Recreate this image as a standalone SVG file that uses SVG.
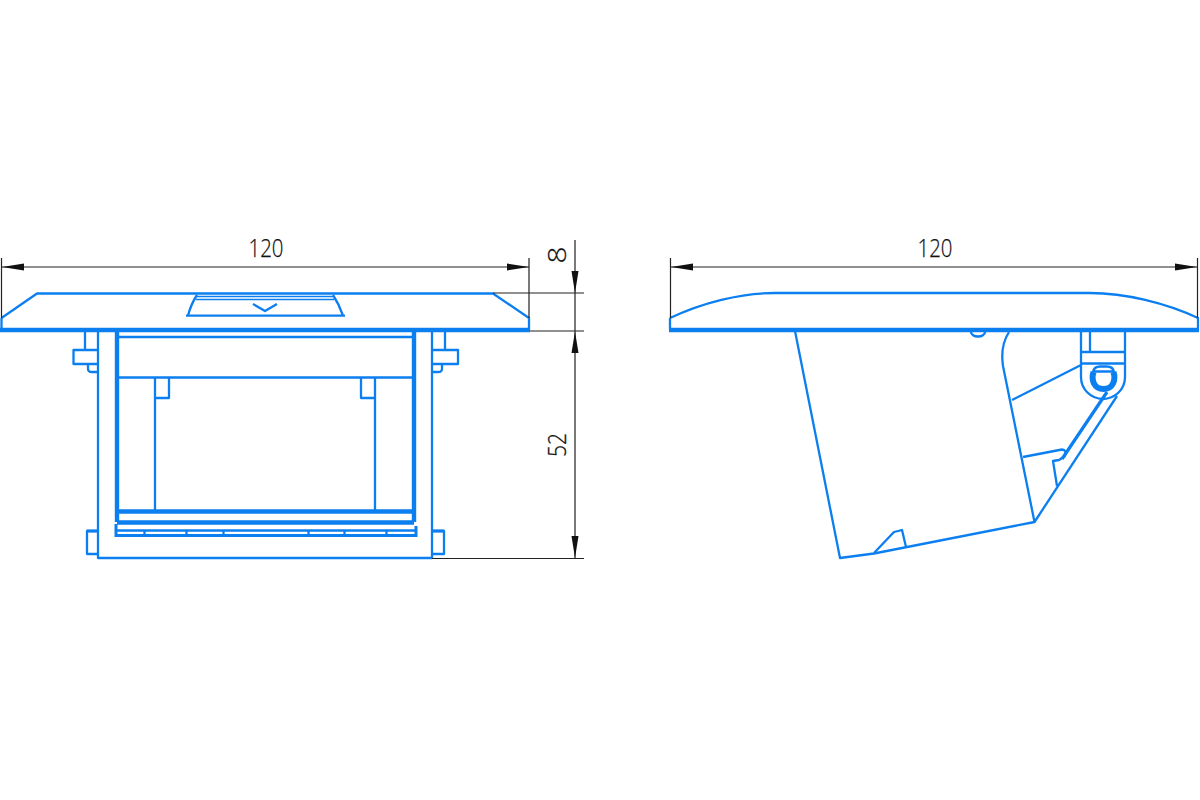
<svg xmlns="http://www.w3.org/2000/svg" width="1200" height="800" viewBox="0 0 1200 800">
<style>
.b{fill:none;stroke:#0c7ff0;stroke-width:2.3;stroke-linejoin:round}
.n{fill:none;stroke:#0c7ff0;stroke-width:1.3}
.m{fill:none;stroke:#0c7ff0;stroke-width:3}
.t{fill:none;stroke:#0c7ff0;stroke-width:4.4}
.d{fill:none;stroke:#222;stroke-width:1.2}
.a{fill:#111;stroke:none}
.x{font-family:"Open Sans","Liberation Sans",sans-serif;font-weight:300;font-size:25px;fill:#111;stroke:#111;stroke-width:.25;text-anchor:middle}
</style>
<rect width="1200" height="800" fill="#fff"/>
<g id="front-view">
<path class="b" d="M1.500 318L37 293.500H493L529 318V330"/>
<path class="b" d="M1.500 318V330"/>
<path class="t" d="M0 330H530"/>
<path class="b" d="M186 315.700H345M188 315.700Q191 304 197 295M333 295Q339 304 343 315.700"/>
<path class="n" d="M197 296.500H333M196 299.500H334"/>
<path class="b" d="M253 304L265 311L277 304"/>
<path class="b" d="M98 331V558H432V331"/>
<path class="t" d="M117 331V522M414 331V522"/>
<path class="b" d="M117 337H414M117 377.500H414"/>
<path class="b" d="M155 378V510M169 378V398H155M375 378V510M361 378V398H375"/>
<path class="b" d="M85 331V350M98 350H73.500V364H98M88 364V369Q88 372 92 372H98"/>
<path class="b" d="M445 331V350M432 350H458V364H432M442 364V369Q442 372 438 372H432"/>
<path class="t" d="M117 511.500H414M117 522.500H414"/>
<path class="m" d="M116 524V535.500H416V526"/>
<path class="b" d="M116 530.500H416M144.500 530V535M186.500 530V535M223.500 530V535M308.500 530V535M344.500 530V535M386.500 530V535"/>
<path class="b" d="M98 531H87V554H98M432 531H444V554H432"/>
<path class="m" d="M87 531H98M432 531H444"/>
</g>
<g id="side-view">
<path class="b" d="M670 318C702 303 740 293 775 293H1090C1125 293 1166 303 1198 318V330M670 318V330"/>
<path class="t" d="M669 330H1199"/>
<path class="b" d="M971 332A7 4.500 0 0 0 985 332"/>
<path class="b" d="M795 331L840 558L874 553.500L1034.500 522L1003 366Q1000 346 1009 332"/>
<path class="b" d="M874 553L894 532L902 530L906 547"/>
<path class="b" d="M1012 400L1081 365"/>
<path class="b" d="M1034.500 522L1117 396"/>
<path class="b" d="M1023 457L1062 449.500Q1067 450 1065 456L1059 460L1053 461L1057 486"/>
<path class="b" d="M1081 331V377A22 22 0 0 0 1125 377V331M1090 331V352M1081 352H1125M1081 363.500H1125"/>
<path fill="none" stroke="#0c7ff0" stroke-width="3.200" d="M1062 459L1107 392"/>
<path fill="none" stroke="#0c7ff0" stroke-width="6" d="M1093.500 372C1091 380 1094 389 1103.500 389C1113 389 1116 380 1113.500 372"/>
<path class="b" d="M1093 372Q1094 366.500 1100 366.500H1107Q1113 366.500 1114 372M1094 371.500H1113"/>
</g>
<g id="dimensions">
<path class="d" d="M2 267H529M1.500 258V318M529 258V318M575 240V558M493 293H584M530 331H584M432 558.500H584"/>
<path class="a" d="M2 267L24 263.500V270.500ZM529 267L507 263.500V270.500ZM575 293L571.500 271H578.500ZM575 331.500L571.500 353H578.500ZM575 558L571.500 536H578.500Z"/>
<text class="x" x="266" y="257" textLength="35" lengthAdjust="spacingAndGlyphs">120</text>
<text class="x" transform="translate(565.500 255) rotate(-90)" textLength="17" lengthAdjust="spacingAndGlyphs">8</text>
<text class="x" transform="translate(565.500 445) rotate(-90)" textLength="24" lengthAdjust="spacingAndGlyphs">52</text>
<path class="d" d="M671 267H1197M670.500 258V318M1197.500 258V318"/>
<path class="a" d="M671 267L693 263.500V270.500ZM1197 267L1175 263.500V270.500Z"/>
<text class="x" x="935" y="257" textLength="35" lengthAdjust="spacingAndGlyphs">120</text>
</g>
</svg>
